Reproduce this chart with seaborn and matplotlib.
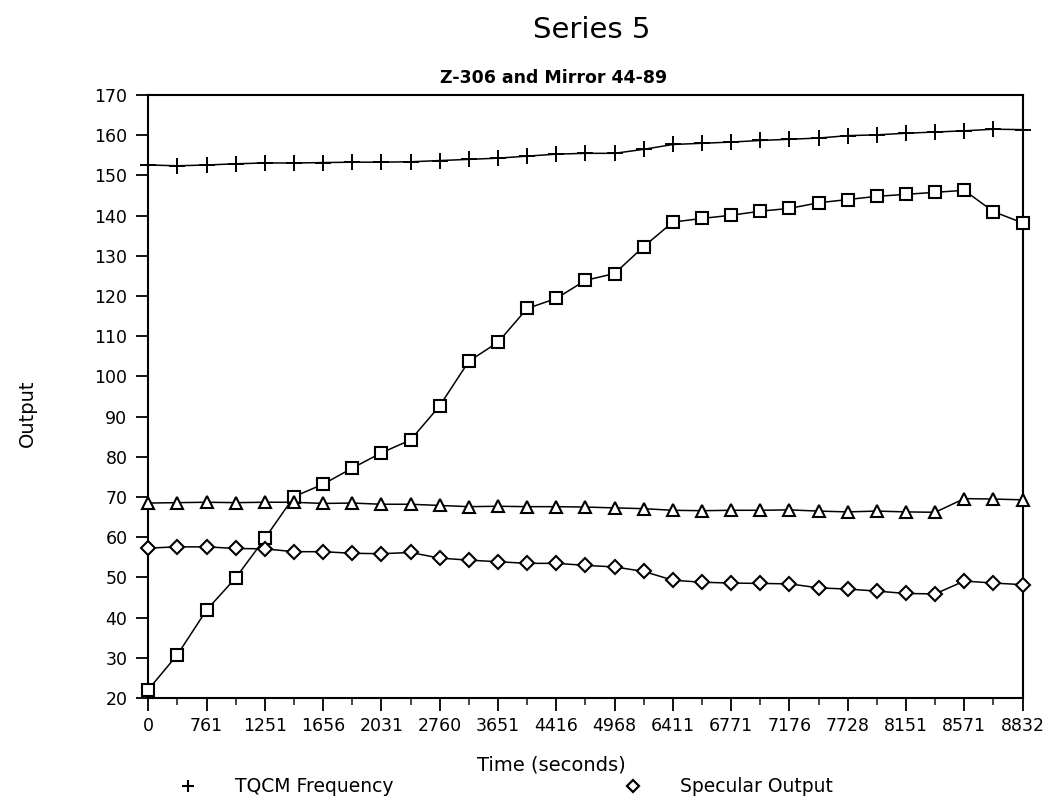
import matplotlib
matplotlib.use("Agg")
import matplotlib.pyplot as plt
from matplotlib.lines import Line2D
import numpy as np
import pandas as pd
import seaborn as sns

# Sample times shown on the axis (every other sample is labelled)
time_labels = ["0", "761", "1251", "1656", "2031", "2760", "3651", "4416",
               "4968", "6411", "6771", "7176", "7728", "8151", "8571", "8832"]

tqcm_frequency = [152.6, 152.4, 152.6, 152.9, 153.1, 153.1, 153.2, 153.3,
                  153.3, 153.4, 153.7, 154.0, 154.3, 154.8, 155.3, 155.5,
                  155.5, 156.5, 157.7, 158.0, 158.3, 158.7, 159.0, 159.3,
                  159.9, 160.1, 160.5, 160.8, 161.1, 161.5, 161.4]

square_series = [22.1, 30.8, 41.9, 49.9, 59.7, 70.1, 73.2, 77.2, 81.0, 84.2,
                 92.7, 103.8, 108.5, 116.9, 119.4, 123.9, 125.6, 132.3, 138.4,
                 139.3, 140.1, 141.1, 141.8, 143.2, 144.0, 144.8, 145.3, 145.8,
                 146.3, 141.0, 138.2]

triangle_series = [68.5, 68.6, 68.7, 68.6, 68.7, 68.7, 68.4, 68.5, 68.2, 68.2,
                   67.9, 67.6, 67.7, 67.6, 67.6, 67.5, 67.3, 67.1, 66.7, 66.6,
                   66.7, 66.7, 66.8, 66.5, 66.3, 66.5, 66.3, 66.2, 69.6, 69.5,
                   69.3]

specular_output = [57.3, 57.6, 57.6, 57.2, 57.1, 56.4, 56.4, 56.0, 55.9, 56.2,
                   54.8, 54.3, 53.9, 53.5, 53.5, 53.0, 52.6, 51.5, 49.3, 48.8,
                   48.6, 48.5, 48.4, 47.4, 47.1, 46.6, 46.0, 45.9, 49.1, 48.6,
                   48.2]

sample = np.arange(len(tqcm_frequency))

sns.set_style("ticks")
plt.rcParams["font.family"] = ["DejaVu Sans"]
plt.rcParams["text.color"] = "black"
plt.rcParams["axes.labelcolor"] = "black"

fig = plt.figure(figsize=(10.52, 7.98), dpi=100)
ax = fig.add_axes([0.141, 0.1253, 0.831, 0.7556])

series = [
    (tqcm_frequency, "+", 11, 1.4),
    (square_series, "s", 9, 1.5),
    (triangle_series, "^", 8, 1.5),
    (specular_output, "D", 7, 1.5),
]
for values, marker, size, mew in series:
    df = pd.DataFrame({"sample": sample, "value": values})
    sns.lineplot(data=df, x="sample", y="value", ax=ax, color="black",
                 linewidth=1.1, marker=marker, markersize=size,
                 markerfacecolor="white" if marker != "+" else "black",
                 markeredgecolor="black", markeredgewidth=mew,
                 clip_on=False, zorder=3)

ax.set_xlim(0, len(sample) - 1)
ax.set_ylim(20, 170)
ax.set_yticks(np.arange(20, 171, 10))
ax.set_xticks(sample[::2])
ax.set_xticklabels(time_labels)
ax.set_xticks(sample[1::2], minor=True)

ax.tick_params(axis="both", which="major", direction="out", length=9,
               width=1.3, labelsize=12.5, colors="black")
ax.tick_params(axis="x", which="major", pad=5)
ax.tick_params(axis="x", which="minor", direction="out", length=5, width=1.2)
ax.tick_params(axis="y", which="major", pad=6)

for side in ["left", "right", "top", "bottom"]:
    ax.spines[side].set_visible(True)
    ax.spines[side].set_linewidth(1.5)
    ax.spines[side].set_color("black")

ax.set_xlabel("Time (seconds)", fontsize=14)
ax.xaxis.set_label_coords(0.461, -0.096)
ax.set_ylabel("Output", fontsize=14)
ax.yaxis.set_label_coords(-0.128, 0.473)

fig.text(0.562, 0.962, "Series 5", ha="center", va="center", fontsize=21)
ax.set_title("Z-306 and Mirror 44-89", fontsize=12.5, fontweight="bold",
             x=0.463, pad=9)

tqcm_handle = Line2D([], [], linestyle="none", marker="+", markersize=8,
                     markeredgewidth=1.5, color="black")
spec_handle = Line2D([], [], linestyle="none", marker="D", markersize=6,
                     markerfacecolor="white", markeredgecolor="black",
                     markeredgewidth=1.6)
legend_style = dict(loc="center left", frameon=False, fontsize=13.5,
                    handlelength=1.0, handletextpad=2.0, borderpad=0,
                    borderaxespad=0)
fig.legend([tqcm_handle], ["TQCM Frequency"],
           bbox_to_anchor=(0.170, 0.0138), **legend_style)
fig.legend([spec_handle], ["Specular Output"],
           bbox_to_anchor=(0.593, 0.0138), **legend_style)

fig.savefig("out.png", dpi=100, facecolor="white")
